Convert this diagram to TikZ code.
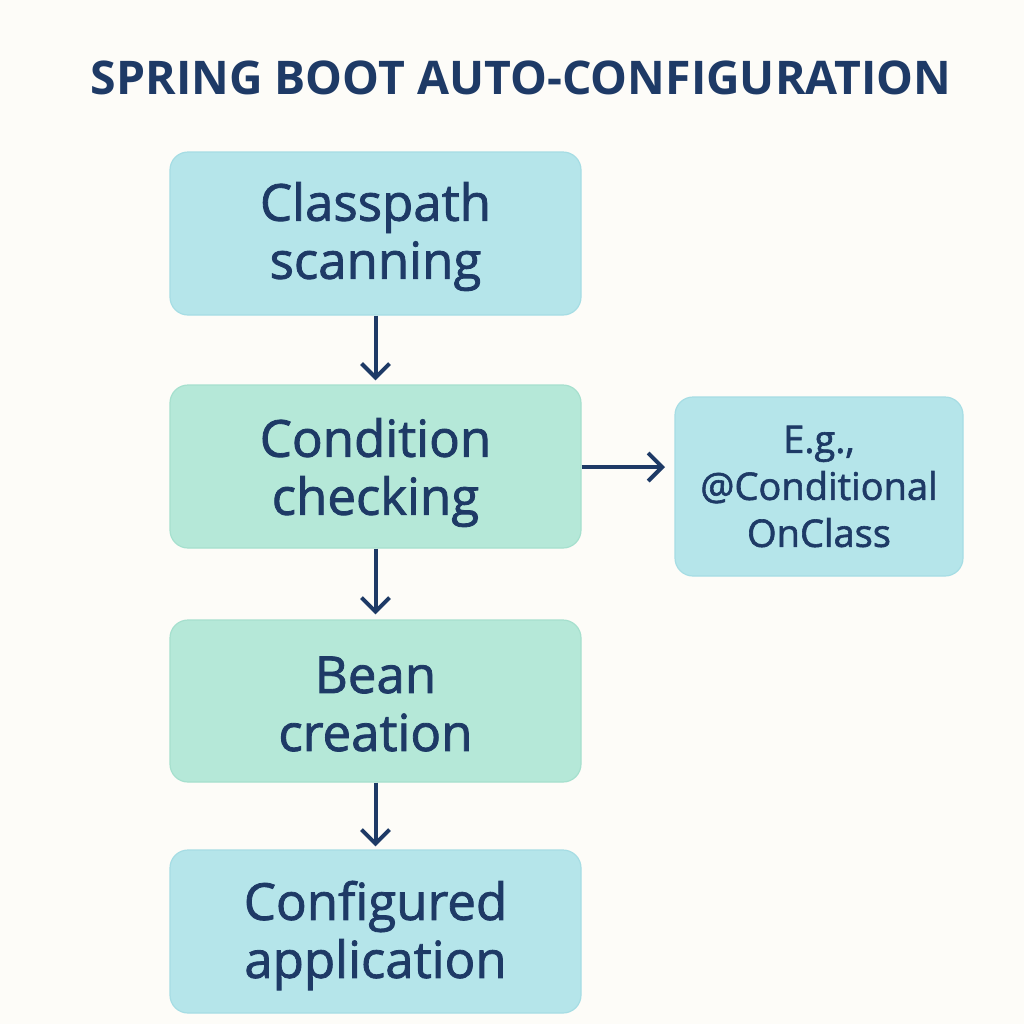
\documentclass[tikz,border=0pt]{standalone}
\usepackage{fontspec}
\setmainfont{Open Sans}
\newfontfamily\boxfont{Open Sans}[FakeBold=1.6]
\usetikzlibrary{arrows.meta}
\definecolor{bg}{HTML}{FDFCF8}
\definecolor{navy}{HTML}{1E3A66}
\definecolor{cyanbox}{HTML}{B5E5EA}
\definecolor{cyanedge}{HTML}{A6DDE4}
\definecolor{greenbox}{HTML}{B5E8D8}
\definecolor{greenedge}{HTML}{A6E0CE}
\newcommand{\boxtext}[2]{\raisebox{-#1}[\height][\depth]{\parbox{200pt}{\centering #2}}}
\tikzset{
  box/.style={draw, line width=0.6pt, rounded corners=9pt, align=center, text=navy,
    font=\boxfont\fontsize{25.5}{29}\selectfont, inner sep=0pt},
  cbox/.style={box, fill=cyanbox, draw=cyanedge},
  gbox/.style={box, fill=greenbox, draw=greenedge},
  arr/.style={draw=navy, line width=2pt, -{Straight Barb[length=7pt, width=14pt, line width=2pt]}},
}
\begin{document}
\begin{tikzpicture}[x=0.5pt, y=-0.5pt]
\fill[bg] (0,0) rectangle (1024,1024);
\useasboundingbox (0,0) rectangle (1024,1024);
\node[text=navy, font=\fontsize{23.2}{26}\selectfont\bfseries] (title) at (521,78) {SPRING BOOT AUTO-CONFIGURATION};
\node[cbox, minimum width=205.5pt, minimum height=81.5pt] (b1) at (375.5,233.5) {\boxtext{1.5pt}{Classpath\\scanning}};
\node[gbox, minimum width=205.5pt, minimum height=81.5pt] (b2) at (375.5,466.5) {\boxtext{3pt}{Condition\\checking}};
\node[gbox, minimum width=205.5pt, minimum height=81pt] (b3) at (375.5,701) {\boxtext{1.5pt}{Bean\\creation}};
\node[cbox, minimum width=205.5pt, minimum height=81.5pt] (b4) at (375.5,931.5) {\boxtext{2pt}{Configured\\application}};
\node[cbox, minimum width=144pt, minimum height=89.5pt, font=\boxfont\fontsize{19}{23.5}\selectfont] (side) at (819,486.5) {E.g.,\\@Conditional\\OnClass};
\coordinate (sideend) at (665,467);
\draw[arr] (b1.south) -- ([yshift=2pt]b2.north);
\draw[arr] (b2.south) -- ([yshift=2.5pt]b3.north);
\draw[arr] (b3.south) -- ([yshift=1.5pt]b4.north);
\draw[arr] (b2.east |- sideend) -- (sideend);
\end{tikzpicture}
\end{document}
